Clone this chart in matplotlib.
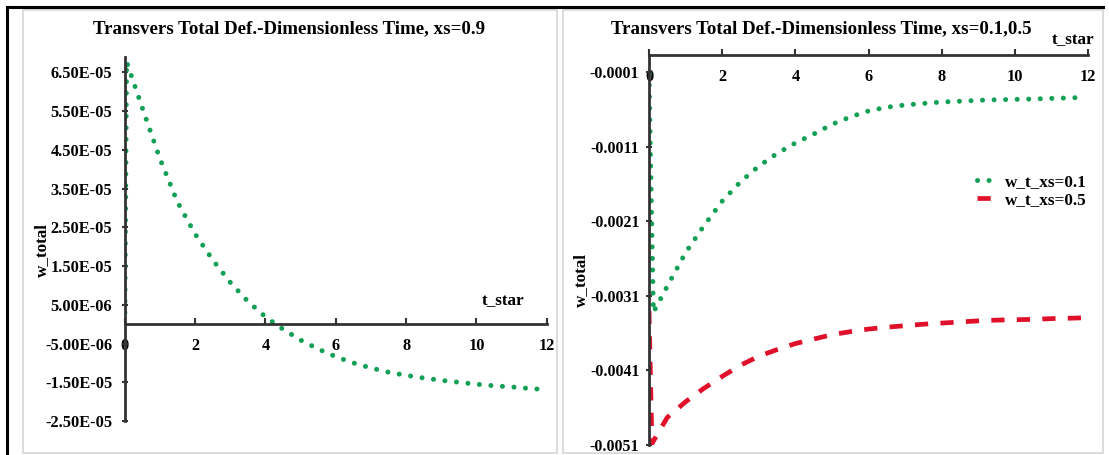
import matplotlib
matplotlib.use("Agg")
import matplotlib.pyplot as plt
from matplotlib.lines import Line2D
from matplotlib.patches import Rectangle

# ---------------- data ----------------
# Left chart: xs = 0.9
t_left = [0, 0.05, 0.5, 1.0, 1.5, 2.0, 2.5, 3.0, 3.5, 4.0, 4.5, 5.0, 5.5, 6.0,
          6.5, 7.0, 7.5, 8.0, 8.5, 9.0, 9.5, 10.0, 10.5, 11.0, 11.5, 12.0]
w_left = [0.0, 6.78e-05, 5.58e-05, 4.27e-05, 3.15e-05, 2.33e-05, 1.66e-05, 1.08e-05,
          0.59e-05, 0.19e-05, -0.13e-05, -0.41e-05, -0.64e-05, -0.84e-05, -1.00e-05,
          -1.13e-05, -1.24e-05, -1.32e-05, -1.39e-05, -1.45e-05, -1.50e-05, -1.55e-05,
          -1.59e-05, -1.62e-05, -1.66e-05, -1.69e-05]

# Right chart: xs = 0.1 and xs = 0.5
t_right_01 = [0, 0.12, 0.5, 1.0, 1.5, 2.0, 2.5, 3.0, 3.5, 4.0, 4.5, 5.0, 5.5, 6.0,
              6.5, 7.0, 7.5, 8.0, 8.5, 9.0, 9.5, 10.0, 10.5, 11.0, 11.5, 11.8]
w_t_xs01 = [-0.00012, -0.00332, -0.00297, -0.00252, -0.00216, -0.00183, -0.00157,
            -0.00136, -0.00119, -0.00105, -0.00093, -0.00080, -0.00070, -0.00062,
            -0.00057, -0.00054, -0.00052, -0.00050, -0.00049, -0.000478, -0.00047,
            -0.000465, -0.00046, -0.000452, -0.000445, -0.00044]
t_right_05 = [0, 0.08, 0.5, 1.0, 1.5, 2.0, 2.5, 3.0, 3.5, 4.0, 4.5, 5.0, 5.5, 6.0,
              6.5, 7.0, 7.5, 8.0, 8.5, 9.0, 9.5, 10.0, 10.5, 11.0, 11.5, 11.8]
w_t_xs05 = [-0.00330, -0.00508, -0.00473, -0.00452, -0.00434, -0.00418, -0.00403,
            -0.00391, -0.00382, -0.00374, -0.00368, -0.00362, -0.00358, -0.003545,
            -0.00352, -0.00350, -0.00348, -0.003465, -0.00345, -0.003435, -0.003425,
            -0.00342, -0.003415, -0.003405, -0.00340, -0.003395]

x_ticks = [0, 2, 4, 6, 8, 10, 12]
x_tick_labels = ["0", "2", "4", "6", "8", "10", "12"]
left_y_ticks = [6.5e-05, 5.5e-05, 4.5e-05, 3.5e-05, 2.5e-05, 1.5e-05, 5e-06,
                -5e-06, -1.5e-05, -2.5e-05]
left_y_labels = ["6.50E-05", "5.50E-05", "4.50E-05", "3.50E-05", "2.50E-05",
                 "1.50E-05", "5.00E-06", "-5.00E-06", "-1.50E-05", "-2.50E-05"]
right_y_ticks = [-0.0001, -0.0011, -0.0021, -0.0031, -0.0041, -0.0051]
right_y_labels = ["-0.0001", "-0.0011", "-0.0021", "-0.0031", "-0.0041", "-0.0051"]

title_left = "Transvers Total Def.-Dimensionless Time, xs=0.9"
title_right = "Transvers Total Def.-Dimensionless Time, xs=0.1,0.5"
series_names = ["w_t_xs=0.1", "w_t_xs=0.5"]

# ---------------- style ----------------
W, H, DPI = 1109, 455, 100
FONT = "Liberation Serif"
GREEN = "#12a055"
RED = "#e0102a"
AXC = "#333333"
TICK_FS = 11.8
RTICK_FS = 11.4
LAB_FS = 12.3
TITLE_FS = 13.6

plt.rcParams["font.family"] = [FONT, "DejaVu Serif"]
plt.rcParams["font.weight"] = "bold"

fig = plt.figure(figsize=(W / DPI, H / DPI), dpi=DPI)
fig.patch.set_facecolor("white")


def frac_x(px):
    return px / W


def frac_y(py):
    return 1 - py / H


# decorative frame lines / chart-area borders
fig.add_artist(Rectangle((frac_x(23), frac_y(453)), frac_x(557 - 23), (453 - 10) / H,
                         fill=False, edgecolor="#d6d6d6", lw=1.2, transform=fig.transFigure))
fig.add_artist(Rectangle((frac_x(563), frac_y(453)), frac_x(1103 - 563), (453 - 10) / H,
                         fill=False, edgecolor="#d6d6d6", lw=1.2, transform=fig.transFigure))
fig.add_artist(Line2D([frac_x(7), frac_x(1103)], [frac_y(7), frac_y(7)], color="black",
                      lw=2.2, transform=fig.transFigure))
fig.add_artist(Line2D([frac_x(7), frac_x(7)], [frac_y(7), 0], color="black",
                      lw=2.2, transform=fig.transFigure))

green_style = dict(color=GREEN, lw=3.6, linestyle=(0, (0.01, 2.3)),
                   dash_capstyle="round", solid_capstyle="round")
red_style = dict(color=RED, lw=3.4, linestyle=(0, (2.8, 2.6)), dash_capstyle="butt")

# ---------------- left chart ----------------
axL = fig.add_axes([frac_x(124.8), frac_y(421), (546.7 - 124.8) / W, (421 - 57) / H])
axL.plot(t_left, w_left, **green_style)
axL.set_xlim(0, 12)
axL.set_ylim(-2.5e-05, 6.9e-05)
axL.spines["top"].set_visible(False)
axL.spines["right"].set_visible(False)
axL.spines["bottom"].set_position(("data", 0))
for s in ("left", "bottom"):
    axL.spines[s].set_color(AXC)
    axL.spines[s].set_linewidth(2.0)
axL.set_xticks(x_ticks)
axL.set_xticklabels(x_tick_labels)
axL.set_yticks(left_y_ticks)
axL.set_yticklabels(left_y_labels)
axL.tick_params(axis="x", direction="in", length=4, width=1.5, color=AXC, pad=10,
                labelsize=TICK_FS)
axL.tick_params(axis="y", direction="inout", length=4, width=1.5, color=AXC, pad=7,
                labelsize=TICK_FS)
for lab in axL.get_xticklabels() + axL.get_yticklabels():
    lab.set_fontweight("bold")
axL.patch.set_alpha(0)
fig.text(frac_x(289), frac_y(29), title_left, ha="center", va="center",
         fontsize=TITLE_FS, fontweight="bold")
fig.text(frac_x(503), frac_y(301), "t_star", ha="center", va="center",
         fontsize=LAB_FS, fontweight="bold")
fig.text(frac_x(42), frac_y(250), "w_total", ha="center", va="center",
         rotation=90, fontsize=LAB_FS, fontweight="bold")

# ---------------- right chart ----------------
axR = fig.add_axes([frac_x(649), frac_y(445), (1088.3 - 649) / W, (445 - 55) / H])
lg, = axR.plot(t_right_01, w_t_xs01, label=series_names[0], **green_style)
lr, = axR.plot(t_right_05, w_t_xs05, label=series_names[1], **red_style)
axR.set_xlim(0, 12)
axR.set_ylim(-0.0051, 0.00013)
axR.spines["top"].set_visible(False)
axR.spines["right"].set_visible(False)
axR.spines["bottom"].set_position(("axes", 1.0))
for s in ("left", "bottom"):
    axR.spines[s].set_color(AXC)
    axR.spines[s].set_linewidth(2.0)
axR.set_xticks(x_ticks)
axR.set_xticklabels(x_tick_labels)
axR.set_yticks(right_y_ticks)
axR.set_yticklabels(right_y_labels)
axR.tick_params(axis="x", direction="in", length=4, width=1.5, color=AXC, pad=10,
                labelsize=TICK_FS)
axR.tick_params(axis="y", direction="inout", length=4, width=1.5, color=AXC, pad=5,
                labelsize=RTICK_FS)
for lab in axR.get_xticklabels() + axR.get_yticklabels():
    lab.set_fontweight("bold")
axR.patch.set_alpha(0)
fig.text(frac_x(821), frac_y(29), title_right, ha="center", va="center",
         fontsize=TITLE_FS, fontweight="bold")
fig.text(frac_x(1073), frac_y(40), "t_star", ha="center", va="center",
         fontsize=LAB_FS, fontweight="bold")
fig.text(frac_x(581), frac_y(280), "w_total", ha="center", va="center",
         rotation=90, fontsize=LAB_FS, fontweight="bold")

leg = axR.legend(handles=[lg, lr], loc="center left", frameon=False,
                 bbox_to_anchor=(frac_x(962), frac_y(191)),
                 bbox_transform=fig.transFigure,
                 handlelength=1.1, handletextpad=0.5, labelspacing=0.15,
                 prop={"family": FONT, "weight": "bold", "size": LAB_FS})

fig.savefig("out.png", dpi=DPI)
